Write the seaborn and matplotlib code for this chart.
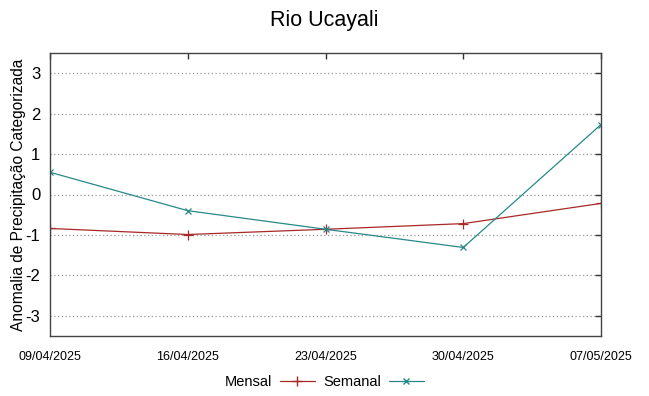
import matplotlib
matplotlib.use("Agg")
import matplotlib.pyplot as plt
import seaborn as sns
import pandas as pd
import numpy as np

dates = ["09/04/2025", "16/04/2025", "23/04/2025", "30/04/2025", "07/05/2025"]
mensal = [-0.84, -0.99, -0.86, -0.72, -0.22]
semanal = [0.55, -0.40, -0.86, -1.31, 1.73]
yticks = [-3, -2, -1, 0, 1, 2, 3]

sns.set_style("white")
plt.rcParams['font.family'] = ['Liberation Sans', 'DejaVu Sans']
plt.rcParams['text.color'] = 'black'
plt.rcParams['axes.labelcolor'] = 'black'
plt.rcParams['xtick.color'] = 'black'
plt.rcParams['ytick.color'] = 'black'

x = np.arange(len(dates))
df_m = pd.DataFrame({"x": x, "valor": mensal})
df_s = pd.DataFrame({"x": x, "valor": semanal})

fig = plt.figure(figsize=(6.49, 3.96), dpi=100)
ax = fig.add_axes([50/649, 60/396, 551/649, 283/396])

c_m, c_s = "#a82828", "#288888"
sns.lineplot(data=df_m, x="x", y="valor", color=c_m, marker="+", markersize=7,
             markeredgewidth=0.9, markeredgecolor=c_m, linewidth=0.9, ax=ax)
sns.lineplot(data=df_s, x="x", y="valor", color=c_s, marker="x", markersize=5,
             markeredgewidth=0.9, markeredgecolor=c_s, linewidth=0.9, ax=ax)

ax.set_xlim(0, len(dates) - 1)
ax.set_ylim(-3.5, 3.5)
ax.set_xticks(x)
ax.set_xticklabels(dates, fontsize=9)
ax.set_yticks(yticks)
ax.set_yticklabels([str(v) for v in yticks], fontsize=12)
ax.set_xlabel("")
ax.set_ylabel("Anomalia de Precipitação Categorizada", fontsize=11.2)
ax.yaxis.set_label_coords(-0.043, 0.5)
ax.tick_params(axis="both", direction="in", length=4, width=1, color="#333333",
               top=True, right=True, labeltop=False, labelright=False)
ax.tick_params(axis="x", pad=11)
ax.tick_params(axis="y", pad=7)
ax.grid(axis="y", linestyle=(0, (1, 2)), color="#999999", linewidth=0.9)
for s in ax.spines.values():
    s.set_color("#444444")
    s.set_linewidth(1.0)

fig.suptitle("Rio Ucayali", fontsize=15.5, y=0.975)

from matplotlib.lines import Line2D
handles = [Line2D([], [], color=c_m, marker="+", lw=0.9, markersize=7),
           Line2D([], [], color=c_s, marker="x", lw=0.9, markersize=5)]
fig.legend(handles, ["Mensal", "Semanal"], loc="center", bbox_to_anchor=(0.5, 0.035),
           ncol=2, frameon=False, markerfirst=False,
           prop={'size': 10.5},
           handlelength=2.4, columnspacing=0.6, handletextpad=0.5)

fig.savefig("out.png", dpi=100)
